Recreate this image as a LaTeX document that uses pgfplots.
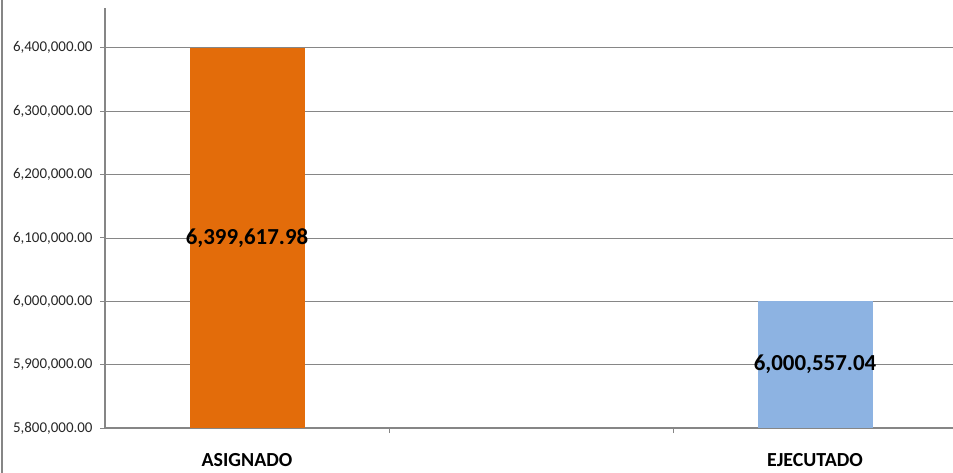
\documentclass[border=0pt]{standalone}
\usepackage{fontspec}
\setmainfont{Carlito}
\usepackage{pgfplots}
\usepackage{pgfplotstable}
\pgfplotsset{compat=1.18}

\definecolor{asig}{RGB}{227,108,10}
\definecolor{ejec}{RGB}{141,179,226}
\definecolor{axgray}{RGB}{134,134,134}

\pgfplotstableread{
x y
0 6399617.98
}\asignado
\pgfplotstableread{
x y
2 6000557.04
}\ejecutado
% labels sit at the middle of each bar
\pgfplotstableread{
x mid label
0 6099808.99 6,399,617.98
2 5900278.52 6,000,557.04
}\etiquetas

\begin{document}
\begin{tikzpicture}
\begin{axis}[
  at={(105bp,45bp)}, anchor=south west,
  scale only axis,
  width=852bp, height=420bp,
  xmin=-0.5, xmax=2.5,
  ymin=5800000, ymax=6463000,
  axis x line=bottom, axis y line=left,
  axis line style={-, draw=axgray, line width=1.6bp},
  ytick={5800000,5900000,...,6400000},
  scaled y ticks=false,
  yticklabel style={xshift=-4bp, /pgf/number format/.cd, fixed, fixed zerofill, precision=2, 1000 sep={,}, assume math mode=true},
  ymajorgrids,
  grid style={draw=axgray, line width=0.9bp},
  tick align=outside,
  major tick length=5bp,
  tick style={draw=axgray, line width=1bp},
  tick label style={font=\fontsize{15}{17}\selectfont, text=black!85},
  xtick={0.5,1.5}, xticklabels={},
  extra x ticks={0,2},
  extra x tick labels={ASIGNADO,EJECUTADO},
  extra x tick style={major tick length=0pt, grid=none,
    xticklabel style={font=\bfseries\fontsize{20}{22}\selectfont, text=black, yshift=-22bp}},
  clip=true,
]
\addplot[ybar, bar width=115bp, bar shift=0pt, fill=asig, draw=none] table[x=x, y=y] {\asignado};
\addplot[ybar, bar width=115bp, bar shift=0pt, fill=ejec, draw=none] table[x=x, y=y] {\ejecutado};
\addplot[draw=none, mark=none, nodes near coords, point meta=explicit symbolic,
  every node near coord/.style={anchor=center, font=\bfseries\fontsize{23}{25}\selectfont, text=black}]
  table[x=x, y=mid, meta=label] {\etiquetas};
\end{axis}
\draw[axgray, line width=1.5bp] (2bp,0) -- (2bp,473bp);
\pgfresetboundingbox
\useasboundingbox (0,0) rectangle (953bp,473bp);
\end{tikzpicture}
\end{document}
